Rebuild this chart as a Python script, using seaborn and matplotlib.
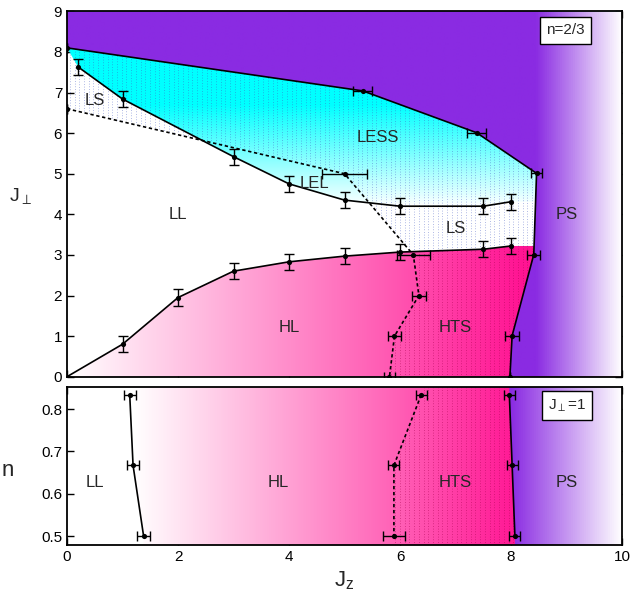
import numpy as np
import seaborn as sns
import matplotlib.pyplot as plt
from matplotlib.colors import LinearSegmentedColormap
from matplotlib.patches import Polygon

# ---- top panel (n = 2/3) ----
# upper boundary of LESS region, continuing down as the PS boundary
ps_top_jz = [0.0, 5.33, 7.38, 8.46, 8.41, 8.02, 7.98]
ps_top_jp = [8.1, 7.04, 6.01, 5.01, 3.01, 1.01, 0.0]
ps_top_xerr = [0.0, 0.17, 0.17, 0.1, 0.12, 0.12, 0.0]

# LS / LESS (LEL) boundary
less_jz = [0.2, 1.0, 3.0, 4.0, 5.0, 6.0, 7.5, 8.0]
less_jp = [7.63, 6.84, 5.42, 4.75, 4.35, 4.2, 4.2, 4.31]
less_yerr = [0.2, 0.2, 0.2, 0.2, 0.2, 0.2, 0.2, 0.2]

# LL / HL boundary
hl_jz = [0.0, 1.0, 2.0, 3.0, 4.0, 5.0, 6.0, 7.5, 8.0]
hl_jp = [0.0, 0.8, 1.95, 2.6, 2.83, 2.97, 3.07, 3.14, 3.22]
hl_yerr = [0.0, 0.2, 0.2, 0.2, 0.2, 0.2, 0.2, 0.2, 0.2]

# dashed boundary (LL | LS / LEL | LESS / HL | HTS)
dash_jz = [0.0, 5.0, 6.24, 6.34, 5.9, 5.81]
dash_jp = [6.6, 5.0, 3.0, 2.0, 1.0, 0.0]
dash_xerr = [0.0, 0.4, 0.3, 0.12, 0.12, 0.1]

top_labels = ['LS', 'LESS', 'LEL', 'LL', 'HL', 'LS', 'HTS', 'PS']
top_label_jz = [0.5, 5.6, 4.45, 2.0, 4.0, 7.0, 7.0, 9.0]
top_label_jp = [6.8, 5.9, 4.77, 4.0, 1.2, 3.65, 1.2, 4.0]

# ---- bottom panel (J_perp = 1) ----
n_vals = [0.833, 0.667, 0.5]
ll_hl_jz = [1.13, 1.19, 1.38]
ll_hl_xerr = [0.11, 0.11, 0.11]
hl_hts_jz = [6.38, 5.89, 5.89]
hl_hts_xerr = [0.1, 0.1, 0.2]
hts_ps_jz = [7.97, 8.02, 8.07]
hts_ps_xerr = [0.1, 0.1, 0.1]

bot_labels = ['LL', 'HL', 'HTS', 'PS']
bot_label_jz = [0.5, 3.8, 7.0, 9.0]
bot_label_n = [0.627, 0.627, 0.627, 0.627]

N_LO, N_HI = 0.479, 0.852

sns.set_theme(style='ticks')
plt.rcParams['font.family'] = ['Liberation Sans', 'DejaVu Sans']
plt.rcParams['mathtext.fontset'] = 'custom'
plt.rcParams['mathtext.rm'] = 'Liberation Sans'
plt.rcParams['mathtext.it'] = 'Liberation Sans:italic'

PURPLE = '#8a2be2'
PINK = '#ff1493'
CYAN = '#00ffff'
DASH = (0, (2.0, 1.6))
DOTS = (0, (1.0, 2.2))


def clip_patch(ax, xs, ys):
    p = Polygon(np.column_stack([xs, ys]), closed=True, transform=ax.transData,
                fc='none', ec='none', lw=0)
    ax.add_patch(p)
    return p


def gradient(ax, cmap, patch, ylim, vertical=False, z=1):
    g = np.linspace(0, 1, 512)
    arr = g[:, None] if vertical else g[None, :]
    im = ax.imshow(arr, cmap=cmap, extent=(0, 10, ylim[0], ylim[1]), origin='lower',
                   aspect='auto', interpolation='bilinear', zorder=z)
    im.set_clip_path(patch)


def boundary(ax, x, y, xerr=None, yerr=None, dashed=False):
    sns.lineplot(x=x, y=y, sort=False, estimator=None, color='black', linewidth=1.2,
                 linestyle=DASH if dashed else '-', ax=ax, zorder=3)
    ax.errorbar(x, y, xerr=xerr, yerr=yerr, fmt='none', ecolor='black',
                elinewidth=1.0, capsize=3.5, capthick=1.0, zorder=3)
    sns.scatterplot(x=x, y=y, color='black', s=14, linewidth=0, ax=ax, zorder=4)


fig = plt.figure(figsize=(6.34, 5.97), dpi=100)
ax1 = fig.add_axes([0.1057, 0.369, 0.8754, 0.612])
ax2 = fig.add_axes([0.1057, 0.0871, 0.8754, 0.2647])

pink_cmap = LinearSegmentedColormap.from_list('pk', [(0, 'white'), (0.82, PINK), (1, PINK)])
pink_cmap2 = LinearSegmentedColormap.from_list('pk2', [(0, 'white'), (0.12, 'white'), (0.82, PINK), (1, PINK)])
cyan_cmap = LinearSegmentedColormap.from_list('cy', [(0, 'white'), (4.2 / 9, 'white'), (6.7 / 9, CYAN), (1, CYAN)])
purple_cmap = LinearSegmentedColormap.from_list('pu', [(0, PURPLE), (0.845, PURPLE), (1, 'white')])
purple_cmap2 = LinearSegmentedColormap.from_list('pu2', [(0, PURPLE), (0.80, PURPLE), (1, 'white')])

hatch_x = np.arange(0.05, 10, 0.085)

# ---- top panel fills ----
pink_patch = clip_patch(ax1, hl_jz + [10, 10], hl_jp + [hl_jp[-1], 0])
gradient(ax1, pink_cmap, pink_patch, (0, 9))

cyan_patch = clip_patch(ax1, [0] + less_jz + [10, 10, 0],
                        [ps_top_jp[0]] + less_jp + [less_jp[-1], 9, 9])
gradient(ax1, cyan_cmap, cyan_patch, (0, 9), vertical=True)

h1_patch = clip_patch(ax1, dash_jz + [10, 10, 0], dash_jp + [0, 9, 9])
hl_at_x = np.interp(hatch_x, hl_jz, hl_jp)
blue_hatch = ax1.vlines(hatch_x, hl_at_x, 9, colors='#3f55c0', linestyles=DOTS,
                        linewidth=0.6, alpha=0.55, zorder=1.5)
blue_hatch.set_clip_path(h1_patch)
pink_hatch = ax1.vlines(hatch_x, 0, hl_at_x, colors='#a8004f', linestyles=DOTS,
                        linewidth=0.6, alpha=0.6, zorder=1.5)
pink_hatch.set_clip_path(h1_patch)

purple_patch = clip_patch(ax1, ps_top_jz + [10, 10, 0], ps_top_jp + [0, 9, 9])
gradient(ax1, purple_cmap, purple_patch, (0, 9), z=2)

# ---- top panel boundaries ----
boundary(ax1, ps_top_jz, ps_top_jp, xerr=ps_top_xerr)
boundary(ax1, less_jz, less_jp, yerr=less_yerr)
boundary(ax1, hl_jz, hl_jp, yerr=hl_yerr)
boundary(ax1, dash_jz, dash_jp, xerr=dash_xerr, dashed=True)

for t, x, y in zip(top_labels, top_label_jz, top_label_jp):
    ax1.text(x, y, t, ha='center', va='center', fontsize=12, zorder=5)
ax1.text(8.98, 8.53, 'n=2/3', ha='center', va='center', fontsize=11, zorder=6,
         bbox=dict(boxstyle='square,pad=0.4', fc='white', ec='black', lw=1.0))

# ---- bottom panel fills ----
pink2_patch = clip_patch(ax2, [ll_hl_jz[0]] + ll_hl_jz + [ll_hl_jz[-1], 10, 10],
                         [N_HI] + n_vals + [N_LO, N_LO, N_HI])
gradient(ax2, pink_cmap2, pink2_patch, (N_LO, N_HI))

h2_patch = clip_patch(ax2, [hl_hts_jz[0]] + hl_hts_jz + [hl_hts_jz[-1], 10, 10],
                      [N_HI] + n_vals + [N_LO, N_LO, N_HI])
pink_hatch2 = ax2.vlines(hatch_x, N_LO, N_HI, colors='#a8004f', linestyles=DOTS,
                         linewidth=0.6, alpha=0.6, zorder=1.5)
pink_hatch2.set_clip_path(h2_patch)

purple2_patch = clip_patch(ax2, [hts_ps_jz[0]] + hts_ps_jz + [hts_ps_jz[-1], 10, 10],
                           [N_HI] + n_vals + [N_LO, N_LO, N_HI])
gradient(ax2, purple_cmap2, purple2_patch, (N_LO, N_HI), z=2)

boundary(ax2, ll_hl_jz, n_vals, xerr=ll_hl_xerr)
boundary(ax2, hl_hts_jz, n_vals, xerr=hl_hts_xerr, dashed=True)
boundary(ax2, hts_ps_jz, n_vals, xerr=hts_ps_xerr)

for t, x, y in zip(bot_labels, bot_label_jz, bot_label_n):
    ax2.text(x, y, t, ha='center', va='center', fontsize=12, zorder=5)
ax2.text(9.0, 0.808, r'$\mathregular{J_{\perp}}$=1', ha='center', va='center', fontsize=11,
         zorder=6, bbox=dict(boxstyle='square,pad=0.4', fc='white', ec='black', lw=1.0))

# ---- axes ----
ax1.set(xlim=(0, 10), ylim=(0, 9), xlabel='', ylabel='')
ax1.set_xticks(range(0, 11, 2))
ax1.set_yticks(range(0, 10))
ax1.tick_params(direction='in', top=True, right=True, length=5, width=1,
                labelsize=11, labelbottom=False, colors='black')

ax2.set(xlim=(0, 10), ylim=(N_LO, N_HI), xlabel='', ylabel='')
ax2.set_xticks(range(0, 11, 2))
ax2.set_yticks([0.5, 0.6, 0.7, 0.8])
ax2.set_yticklabels(['0.5', '0.6', '0.7', '0.8'])
ax2.tick_params(direction='in', top=True, right=True, length=5, width=1,
                labelsize=11, colors='black')

for ax in (ax1, ax2):
    for s in ax.spines.values():
        s.set_linewidth(1.3)
        s.set_color('black')
        s.set_zorder(7)

fig.text(20 / 634, 1 - 196 / 597, r'$\mathregular{J_{\perp}}$', fontsize=14, ha='center', va='center')
fig.text(8 / 634, 1 - 470 / 597, 'n', fontsize=16, ha='center', va='center')
fig.text(344 / 634, 1 - 581 / 597, r'$\mathregular{J_z}$', fontsize=16, ha='center', va='center')

fig.savefig('out.png', dpi=100)
